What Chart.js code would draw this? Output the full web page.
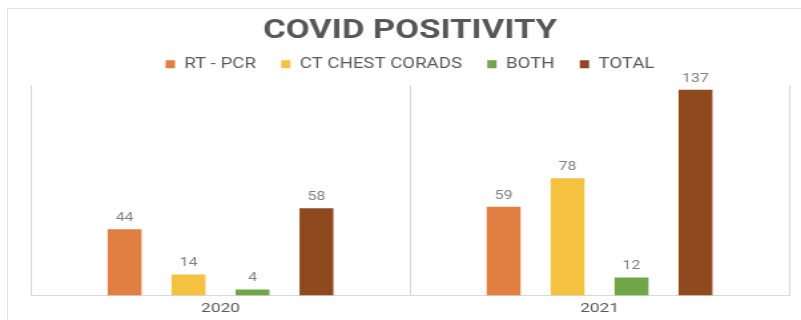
<!DOCTYPE html>
<html>
<head>
<meta charset="utf-8">
<script src="https://cdn.jsdelivr.net/npm/chart.js@4.4.0/dist/chart.umd.min.js"></script>
<style>
  html, body { margin: 0; padding: 0; background: #fff; }
  #wrap { position: relative; width: 801px; height: 320px; overflow: hidden; }
  #frame { position: absolute; left: 7px; top: 8px; width: 820px; height: 330px;
           border-left: 1px solid #e3e3e3; border-top: 1px solid #e3e3e3; }
  /* the source picture is stretched sideways, so the canvas is too */
  #myChart { position: absolute; left: 0; top: 0; transform-origin: 0 0; transform: scaleX(1.3306); }
</style>
</head>
<body>
<div id="wrap">
  <div id="frame"></div>
  <canvas id="myChart" width="602" height="320"></canvas>
</div>
<script>
// chart data
var years = ['2020', '2021']
var rtPcr = [44, 59]
var ctChest = [14, 78]
var both = [4, 12]
var total = [58, 137]

// value above each bar
var barValues = {
  id: 'barValues',
  afterDatasetsDraw: function(chart){
    var ctx = chart.ctx
    ctx.save()
    ctx.font = '12px Roboto'
    ctx.fillStyle = '#7f7f7f'
    ctx.textAlign = 'center'
    ctx.textBaseline = 'bottom'
    chart.data.datasets.forEach(function(ds, i){
      chart.getDatasetMeta(i).data.forEach(function(bar, j){
        ctx.fillText(ds.data[j], bar.x, bar.y - 5)
      })
    })
    ctx.restore()
  }
}

// a bit more room under the legend
var legendGap = {
  id: 'legendGap',
  beforeInit: function(chart){
    var fit = chart.legend.fit
    chart.legend.fit = function(){
      fit.bind(chart.legend)()
      this.height += 4
    }
  }
}

var myChart = document.getElementById('myChart').getContext('2d')

var chart = new Chart(myChart, {
  type: 'bar',
  data: {
    labels: years,
    datasets: [
      { label: 'RT - PCR', data: rtPcr, backgroundColor: '#E07F41' },
      { label: 'CT CHEST CORADS', data: ctChest, backgroundColor: '#F4C141' },
      { label: 'BOTH', data: both, backgroundColor: '#70A548' },
      { label: 'TOTAL', data: total, backgroundColor: '#8E4A1E' }
    ]
  },
  options: {
    responsive: false,
    animation: false,
    layout: { padding: { left: 23.3, right: 9, top: 0, bottom: -3 } },
    datasets: {
      bar: { categoryPercentage: 0.675, barPercentage: 0.53 }
    },
    plugins: {
      title: {
        display: true,
        text: 'COVID POSITIVITY',
        color: '#575757',
        font: { family: 'Roboto', size: 26, weight: 'bold' },
        padding: { top: 16, bottom: -9 }
      },
      legend: {
        display: true,
        labels: {
          color: '#595959',
          font: { family: 'Roboto', size: 14 },
          boxWidth: 7,
          boxHeight: 8,
          padding: 19
        }
      },
      tooltip: { enabled: false }
    },
    scales: {
      x: {
        grid: { display: true, offset: true, color: '#d9d9d9', drawTicks: false },
        border: { display: true, color: '#d9d9d9' },
        ticks: { color: '#595959', font: { family: 'Roboto', size: 13 }, padding: 6 }
      },
      y: {
        display: false,
        min: 0,
        max: 140
      }
    }
  },
  plugins: [barValues, legendGap]
})
</script>
</body>
</html>
